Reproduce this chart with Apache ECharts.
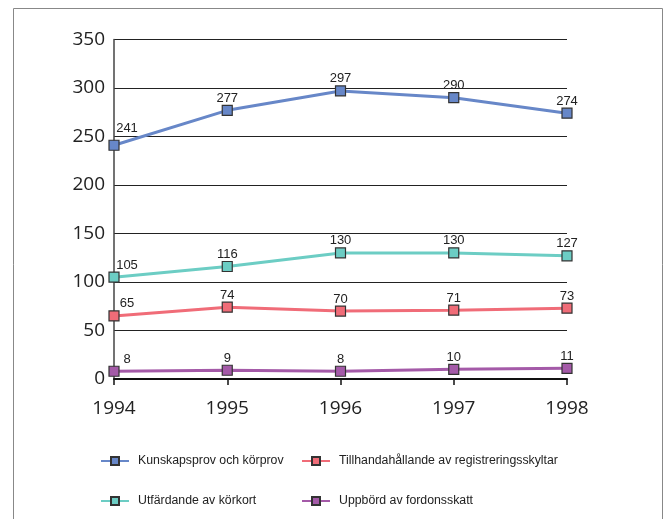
<!DOCTYPE html>
<html><head><meta charset="utf-8">
<script src="https://cdn.jsdelivr.net/npm/echarts@6/dist/echarts.min.js"></script>
<style>html,body{margin:0;padding:0;background:#fff}#c{width:667px;height:519px}</style>
</head><body><div id="c"></div>
<script>
const years = ['1994','1995','1996','1997','1998'];
const kunskapsprov = [241, 277, 297, 290, 274];
const tillhandahallande = [65, 74, 70, 71, 73];
const utfardande = [105, 116, 130, 130, 127];
const uppbord = [8, 9, 8, 10, 11];
const names = ['Kunskapsprov och körprov','Tillhandahållande av registreringsskyltar','Utfärdande av körkort','Uppbörd av fordonsskatt'];
const colors = ['#6787c8','#f06c78','#6ccdc4','#a45aa8'];
const yTicks = [0,50,100,150,200,250,300,350];

const chart = echarts.init(document.getElementById('c'));
function mk(name, vals, color, firstDy){
  return {
    name, type:'line', data: vals.map((v,i)=>({value:v, label:{offset: i===0?[13,firstDy]:[0,0]}})),
    symbol:'rect', symbolSize:10,
    lineStyle:{color, width:3},
    itemStyle:{color, borderColor:'#333', borderWidth:1.2},
    label:{show:true, position:'top', distance:0, color:'#222', fontSize:13, fontFamily:'Liberation Sans'},
    emphasis:{disabled:true}, animation:false
  };
}
const legendText = {fontSize:12.3, color:'#222', fontFamily:'Liberation Sans', padding:[0,0,0,4]};
chart.setOption({
  animation:false,
  graphic:[{type:'rect', shape:{x:13.5,y:8.5,width:649,height:530}, style:{fill:null, stroke:'#888', lineWidth:1}}],
  grid:{left:114, right:100, top:39.5, bottom:140},
  xAxis:{type:'category', data:years, boundaryGap:false,
    axisLine:{lineStyle:{color:'#111', width:2}},
    axisTick:{show:true, length:6, inside:false, lineStyle:{color:'#111', width:1.5}},
    axisLabel:{color:'#222', fontSize:19, margin:20, fontFamily:'Open Sans'}},
  yAxis:{type:'value', min:0, max:350, interval:50,
    axisLine:{show:true, lineStyle:{color:'#444', width:1.5}},
    axisTick:{show:false},
    splitLine:{lineStyle:{color:'#222', width:1.2}},
    axisLabel:{color:'#222', fontSize:19, margin:9, fontFamily:'Open Sans',
      formatter: v => yTicks.includes(v) ? String(v) : ''}},
  legend:[
    {data:[names[0],names[2]], orient:'vertical', left:100, top:455, padding:0, itemWidth:28, itemHeight:10, itemGap:28,
     textStyle:legendText},
    {data:[names[1],names[3]], orient:'vertical', left:301, top:455, padding:0, itemWidth:28, itemHeight:10, itemGap:28,
     textStyle:legendText}
  ],
  series:[
    mk(names[0], kunskapsprov, colors[0], -5),
    mk(names[1], tillhandahallande, colors[1], 0),
    mk(names[2], utfardande, colors[2], 0),
    mk(names[3], uppbord, colors[3], 0)
  ]
});
</script></body></html>
